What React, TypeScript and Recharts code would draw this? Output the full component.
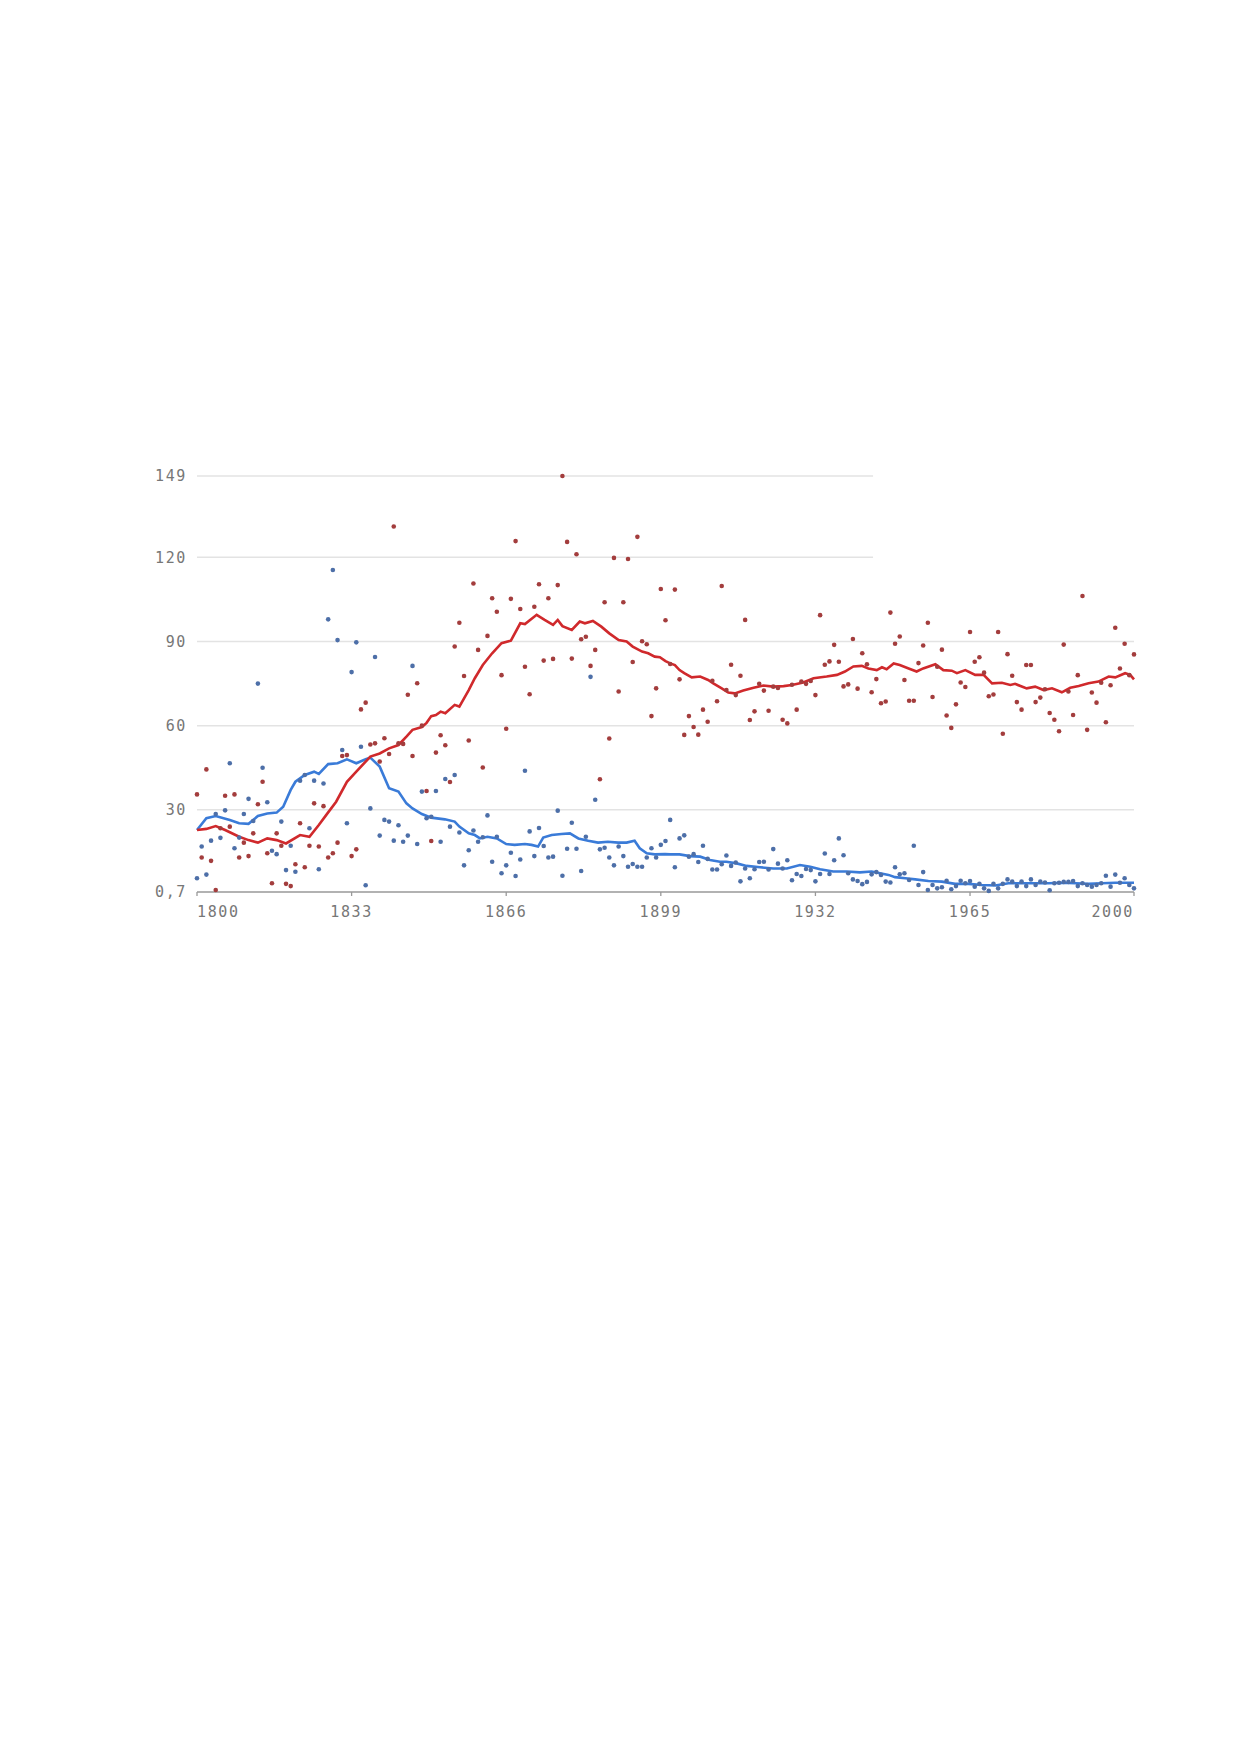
import React from 'react';
import {
  ComposedChart,
  Scatter,
  Line,
  XAxis,
  YAxis,
  ReferenceLine,
} from 'recharts';

// yearly observations, one per year starting at firstYear
const firstYear = 1800;

const redValues = [
  35.5, 13, 44.4, 11.8, 1.4, 23.4, 35, 24, 35.5, 13,
  18.3, 13.5, 21.6, 32, 40, 14.5, 3.8, 21.6, 17.2, 3.6,
  2.8, 10.6, 25.2, 9.5, 17.2, 32.3, 16.9, 31.3, 13, 14.5,
  18.3, 49.2, 49.5, 13.5, 15.9, 65.8, 68.2, 53.3, 53.7, 47.2,
  55.5, 49.9, 131, 53.7, 53.5, 71, 49.2, 75.1, 60, 36.7,
  18.9, 50.4, 56.6, 53, 39.9, 88.2, 96.7, 77.7, 54.7, 110.7,
  87, 45.1, 92, 105.4, 100.6, 78, 58.9, 105.2, 125.8, 101.6,
  81, 71.2, 102.4, 110.4, 83.2, 105.4, 83.8, 110.1, 149, 125.5,
  83.9, 121.1, 90.8, 91.7, 81.3, 87, 40.9, 104, 55.4, 119.8,
  72.2, 104, 119.4, 82.7, 127.3, 90.1, 89, 63.4, 73.3, 108.7,
  97.6, 82, 108.5, 76.5, 56.7, 63.4, 59.5, 56.8, 65.7, 61.4,
  76, 68.7, 109.8, 72.7, 81.7, 70.9, 77.8, 97.7, 62, 65.1,
  74.9, 72.5, 65.3, 73.9, 73.4, 62.1, 60.8, 74.6, 65.7, 75.7,
  74.9, 75.9, 70.9, 99.4, 81.7, 82.9, 88.8, 82.8, 74, 74.7,
  90.9, 73.2, 85.8, 81.9, 71.9, 76.6, 68, 68.6, 100.3, 89.2,
  91.8, 76.3, 68.9, 68.9, 82.3, 88.6, 96.7, 70.2, 81, 87.1,
  63.6, 59.2, 67.6, 75.4, 73.8, 93.4, 82.8, 84.4, 78.9, 70.5,
  71.1, 93.4, 57.1, 85.5, 77.8, 68.4, 65.7, 81.6, 81.6, 68.4,
  70, 73, 64.5, 62.1, 58, 88.9, 72.2, 63.8, 78, 106.2,
  58.5, 71.8, 68.2, 75.3, 61.2, 74.4, 94.9, 80.4, 89.2, 78,
  85.4,
];

const blueValues = [
  5.6, 16.9, 6.9, 19, 28.5, 20, 29.8, 46.6, 16.3, 20.1,
  28.5, 33.9, 26, 75, 45, 32.7, 15.4, 14.2, 25.8, 8.5,
  17.2, 7.9, 40.4, 42.4, 23.4, 40.4, 8.8, 39.4, 97.9, 115.5,
  90.5, 51.3, 25.2, 79.1, 89.7, 52.5, 3.1, 30.5, 84.5, 20.8,
  26.4, 25.8, 19, 24.5, 18.6, 20.8, 81.3, 17.8, 36.5, 27,
  27.5, 36.7, 18.6, 41, 24, 42.4, 21.9, 10.2, 15.6, 22.6,
  18.6, 20.2, 28, 11.5, 20.4, 7.4, 10.2, 14.7, 6.4, 12.3,
  43.9, 22.3, 13.5, 23.5, 17.1, 13, 13.3, 29.7, 6.5, 16.1,
  25.4, 16.1, 8.2, 20.4, 77.4, 33.6, 15.9, 16.5, 13, 10.2,
  16.9, 13.5, 9.7, 10.7, 9.7, 9.7, 13, 16.3, 13, 17.5,
  18.9, 26.4, 9.5, 19.8, 20.9, 13.3, 14.2, 11.4, 17.2, 12.5,
  8.7, 8.7, 10.6, 13.7, 10, 11.2, 4.5, 9.1, 5.6, 8.8,
  11.4, 11.5, 8.7, 16, 10.8, 9.1, 12, 4.9, 7.1, 6.4,
  8.9, 8.5, 4.5, 7.1, 14.4, 7.1, 12, 19.8, 13.8, 7.4,
  5.2, 4.6, 3.5, 4.3, 7, 7.8, 6.8, 4.4, 4.1, 9.5,
  7, 7.4, 5, 17.2, 3.2, 7.8, 1.4, 3.2, 2, 2.4,
  4.7, 1.7, 2.8, 4.7, 3.8, 4.6, 2.6, 3.6, 2, 1.1,
  3.6, 2, 3.6, 5.2, 4.4, 2.8, 4.4, 2.8, 5.2, 3.2,
  4.4, 4.1, 1.3, 3.8, 4, 4.3, 4.3, 4.6, 2.8, 3.8,
  3.2, 2.6, 3.2, 3.8, 6.5, 2.6, 6.9, 4, 5.6, 3.2,
  2,
];

// smoothed trend lines, [year, value]
const redTrend = [
  [1800, 22.8], [1802, 23.2], [1804, 24.2], [1806, 22.8], [1809, 20.4],
  [1811, 19.2], [1813, 18.3], [1815, 19.8], [1817, 19.2], [1819, 18],
  [1822, 21], [1824, 20.4], [1826, 24.6], [1827.6, 28.2], [1829.7, 32.9],
  [1832, 40], [1834, 43.6], [1836, 47.2], [1837, 49], [1839, 50.1],
  [1841, 51.9], [1843, 53.1], [1844.7, 56.1], [1846, 58.5], [1848, 59.5],
  [1849, 61], [1850, 63.4], [1851, 63.8], [1852, 65], [1853, 64.4],
  [1855, 67.4], [1856, 66.8], [1858, 72.7], [1859.3, 76.9], [1861, 81.6],
  [1863, 85.8], [1865, 89.4], [1867, 90.3], [1869, 96.5], [1870, 96.2],
  [1872.5, 99.5], [1874.2, 97.7], [1876, 95.9], [1877, 97.7], [1878, 95.5],
  [1880, 94.1], [1881.7, 97.1], [1882.8, 96.5], [1884.5, 97.3], [1886.3, 95.3],
  [1888, 92.9], [1890, 90.5], [1891.7, 90], [1893, 88.2], [1895, 86.4],
  [1896.3, 85.8], [1897.7, 84.6], [1898.8, 84.4], [1900, 83], [1901, 82.2],
  [1902, 81.6], [1903, 79.8], [1904, 78.7], [1905.6, 77.2], [1907.4, 77.5],
  [1909.1, 76.3], [1910.2, 75.1], [1912, 73.3], [1913.4, 71.8], [1914.8, 71.5],
  [1916.6, 72.5], [1918.8, 73.5], [1920.9, 74.3], [1923, 73.9], [1925.2, 74.1],
  [1927, 74.5], [1929.4, 75.4], [1931.6, 76.9], [1934.4, 77.5], [1936.6, 78.1],
  [1938.3, 79.3], [1940.1, 81.1], [1941.9, 81.3], [1943.3, 80.4], [1945.1, 79.8],
  [1946.2, 80.8], [1947.2, 80.1], [1948.7, 82.2], [1950, 81.6], [1951.9, 80.4],
  [1953.6, 79.3], [1955, 80.4], [1957.6, 81.9], [1959.3, 79.8], [1961.1, 79.6],
  [1962.2, 78.7], [1964, 79.8], [1966.1, 78.1], [1967.9, 78.1], [1969.7, 75.1],
  [1971.8, 75.3], [1973.6, 74.5], [1974.6, 74.9], [1977.1, 73.3], [1978.9, 73.9],
  [1980.7, 72.7], [1982.5, 73.3], [1984.6, 71.9], [1986.4, 73.5], [1988.2, 74.1],
  [1990.3, 75.1], [1992.4, 75.7], [1994.6, 77.5], [1996, 77.2], [1998.1, 78.7],
  [1999.2, 78.1], [2000, 76.5],
];

const blueTrend = [
  [1800, 22.8], [1802, 27], [1804, 27.8], [1807, 26.4], [1809, 25.2],
  [1811, 25], [1813, 27.8], [1815, 28.7], [1817, 29], [1818.4, 31.1],
  [1820, 37.1], [1821, 40], [1823, 42.4], [1825, 43.6], [1826, 42.8],
  [1828, 46.3], [1830, 46.6], [1832, 48], [1834, 46.6], [1836, 48],
  [1837, 48.6], [1839, 45.4], [1841, 37.7], [1843, 36.5], [1844.7, 32.3],
  [1846, 30.5], [1848, 28.5], [1850, 27.2], [1852.9, 26.6], [1855, 25.8],
  [1856, 24], [1858, 21.6], [1859.3, 21], [1860.4, 19.8], [1862, 20.4],
  [1864, 19.8], [1866, 17.8], [1867.8, 17.5], [1870, 17.8], [1871.4, 17.5],
  [1872.8, 16.9], [1873.9, 20.1], [1875.7, 21], [1877.8, 21.4], [1879.6, 21.6],
  [1881.4, 19.8], [1883.5, 19], [1885.6, 18.3], [1887.7, 18.6], [1889.9, 18.3],
  [1891.7, 18.3], [1893.4, 19], [1894.5, 16.3], [1896, 14.5], [1897.7, 14.1],
  [1899.9, 14.2], [1901, 14.1], [1903, 14.1], [1905.2, 13.5], [1907.4, 13.3],
  [1909.5, 12.1], [1911.6, 11.5], [1913, 11.5], [1915.2, 10.9], [1917.3, 10],
  [1920.2, 9.5], [1923, 9.1], [1925.9, 9.1], [1928.7, 10.3], [1930.9, 9.7],
  [1933, 8.8], [1935.8, 8], [1938.7, 8], [1941.5, 7.7], [1944, 8],
  [1945.8, 7.4], [1947.6, 6.8], [1949, 6], [1951.2, 5.6], [1953.3, 5.2],
  [1956.1, 4.6], [1959, 4.4], [1961.8, 3.6], [1964.7, 3.6], [1967.5, 3.2],
  [1970.4, 3], [1973.2, 3.8], [1976, 3.8], [1978.9, 3.8], [1981.8, 3.8],
  [1984.6, 4], [1987.5, 3.8], [1990.3, 3.6], [1993.1, 3.8], [1996, 4],
  [1998.8, 4], [2000, 4],
];

const xTicks = [1800, 1833, 1866, 1899, 1932, 1965, 2000];
const yTicks = [0.7, 30, 60, 90, 120, 149];
const fullGridLines = [30, 60, 90];
const shortGridLines = [120, 149];
const shortGridEndYear = 1944.3;

const redDots = redValues.map((value, i) => ({ year: firstYear + i, value }));
const blueDots = blueValues.map((value, i) => ({ year: firstYear + i, value }));
const redLine = redTrend.map(([year, value]) => ({ year, value }));
const blueLine = blueTrend.map(([year, value]) => ({ year, value }));

const labelFont = {
  fontFamily: '"DejaVu Sans Mono", monospace',
  fontSize: 15,
  letterSpacing: 1.6,
  fill: '#777',
};

const XTick = (props: any) => {
  const { x, y, payload } = props;
  const v = payload.value;
  const anchor = v === xTicks[0] ? 'start' : v === xTicks[xTicks.length - 1] ? 'end' : 'middle';
  return (
    <text x={x} y={y} dy={19} textAnchor={anchor} style={labelFont}>
      {v}
    </text>
  );
};

const dot = (color: string) => (props: any) => (
  <circle cx={props.cx} cy={props.cy} r={2.3} fill={color} />
);

export default function App() {
  return (
    <div style={{ position: 'absolute', left: 0, top: 0, background: '#fff' }}>
      <ComposedChart
        width={1240}
        height={1000}
        margin={{ top: 476, right: 106, bottom: 78, left: 137 }}
      >
        <XAxis
          type="number"
          dataKey="year"
          domain={[1800, 2000]}
          ticks={xTicks}
          tick={<XTick />}
          tickSize={4}
          tickMargin={2}
          stroke="#999"
          axisLine={{ stroke: '#999', strokeWidth: 1.3 }}
          tickLine={{ stroke: '#999', strokeWidth: 1.3 }}
        />
        <YAxis
          type="number"
          dataKey="value"
          domain={[0.7, 149]}
          ticks={yTicks}
          axisLine={false}
          tickLine={false}
          tickSize={6}
          tickMargin={4}
          tick={labelFont}
          tickFormatter={(v: number) => String(v).replace('.', ',')}
        />
        {fullGridLines.map((v) => (
          <ReferenceLine key={v} y={v} stroke="#e3e3e3" strokeWidth={1.5} />
        ))}
        {shortGridLines.map((v) => (
          <ReferenceLine
            key={v}
            segment={[
              { x: 1800, y: v },
              { x: shortGridEndYear, y: v },
            ]}
            stroke="#e3e3e3"
            strokeWidth={1.5}
          />
        ))}
        <Scatter data={redDots} dataKey="value" shape={dot('#a33d3d')} isAnimationActive={false} />
        <Scatter data={blueDots} dataKey="value" shape={dot('#4d6fa8')} isAnimationActive={false} />
        <Line
          data={blueLine}
          dataKey="value"
          type="linear"
          stroke="#3a7bd8"
          strokeWidth={2.6}
          dot={false}
          activeDot={false}
          isAnimationActive={false}
        />
        <Line
          data={redLine}
          dataKey="value"
          type="linear"
          stroke="#d0292c"
          strokeWidth={2.6}
          dot={false}
          activeDot={false}
          isAnimationActive={false}
        />
      </ComposedChart>
    </div>
  );
}
